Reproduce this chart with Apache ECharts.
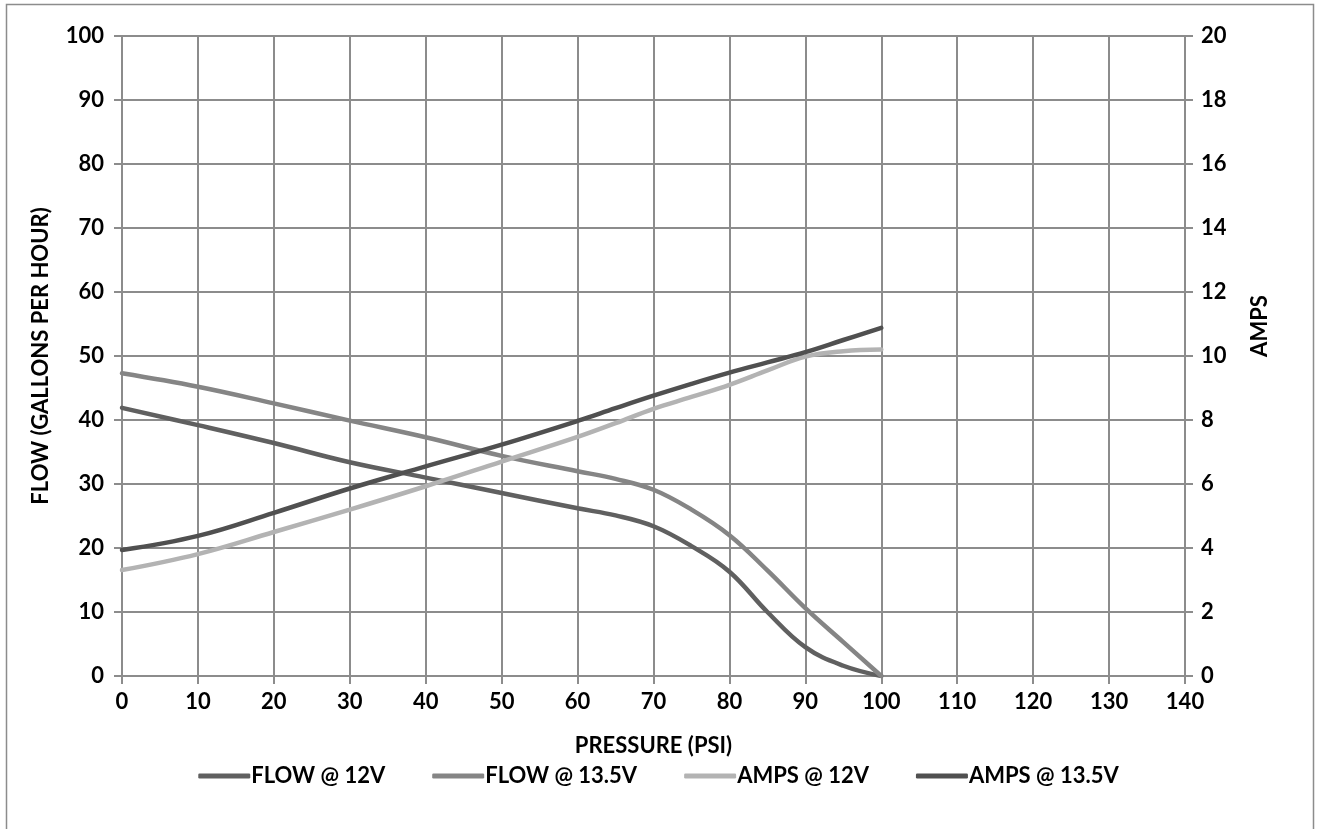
<!DOCTYPE html>
<html><head><meta charset="utf-8">
<script src="https://cdn.jsdelivr.net/npm/echarts@6/dist/echarts.min.js"></script>
<style>html,body{margin:0;padding:0;background:#fff}#c{width:1317px;height:829px}</style>
</head><body><div id="c"></div>
<script>
const pressure = [0,10,20,30,40,50,60,65,70,75,80,85,90,95,100];
const flow12  = [41.9,39.2,36.4,33.4,31.0,28.6,26.2,25.1,23.4,20.3,16.3,10.0,4.5,1.6,0];
const flow135 = [47.3,45.2,42.6,39.9,37.3,34.4,32.0,30.8,29.1,26.0,22.0,16.5,10.6,5.3,0];
const amps12  = [3.31,3.81,4.5,5.2,5.93,6.7,7.47,7.9,8.35,8.72,9.1,9.55,9.98,10.15,10.2];
const amps135 = [3.94,4.38,5.1,5.86,6.55,7.23,7.97,8.37,8.76,9.13,9.48,9.8,10.12,10.5,10.88];
const seriesNames = ['FLOW @ 12V','FLOW @ 13.5V','AMPS @ 12V','AMPS @ 13.5V'];
const colors = ['#606060','#858585','#b3b3b3','#505050'];

const FONT = 'Lato';
const gridColor = '#8c8c8c';
const pair = arr => pressure.map((p,i)=>[p,arr[i]]);
const lbl = {fontFamily:FONT,fontWeight:'bold',fontSize:22,color:'#000'};

const chart = echarts.init(document.getElementById('c'));
chart.setOption({
  animation:false,
  color:colors,
  grid:{left:122,right:132,top:36,bottom:153},
  graphic:[{type:'rect',shape:{x:6.5,y:4.5,width:1307,height:840},style:{fill:'none',stroke:'#8c8c8c',lineWidth:1.5}}],
  legend:{
    data:seriesNames, bottom:37, left:'center',
    icon:'roundRect', itemWidth:52, itemHeight:5, itemGap:47,
    textStyle:Object.assign({},lbl,{padding:[0,0,0,-4]})
  },
  xAxis:{
    type:'value',min:0,max:140,interval:10,
    name:'PRESSURE (PSI)',nameLocation:'middle',nameGap:59,nameTextStyle:lbl,
    axisLine:{show:true,onZero:false,lineStyle:{color:gridColor,width:2}},
    axisTick:{show:true,length:8,lineStyle:{color:gridColor,width:2}},
    axisLabel:Object.assign({},lbl,{margin:15}),
    splitLine:{show:true,lineStyle:{color:gridColor,width:2}}
  },
  yAxis:[{
    type:'value',min:0,max:100,interval:10,
    name:'FLOW (GALLONS PER HOUR)',nameLocation:'middle',nameGap:70,nameRotate:90,nameTextStyle:lbl,
    axisLine:{show:false},
    axisTick:{show:true,length:8,lineStyle:{color:gridColor,width:2}},
    axisLabel:Object.assign({},lbl,{margin:18}),
    splitLine:{show:true,lineStyle:{color:gridColor,width:2}}
  },{
    type:'value',min:0,max:20,interval:2,position:'right',
    name:'AMPS',nameLocation:'middle',nameGap:64,nameRotate:90,
    nameTextStyle:Object.assign({},lbl,{padding:[0,0,0,60]}),
    axisLine:{show:true,lineStyle:{color:gridColor,width:2}},
    axisTick:{show:true,length:8,lineStyle:{color:gridColor,width:2}},
    axisLabel:Object.assign({},lbl,{margin:16}),
    splitLine:{show:false}
  }],
  series:[
    {name:seriesNames[0],type:'line',yAxisIndex:0,data:pair(flow12),smooth:0.4,showSymbol:false,lineStyle:{width:4.5,color:colors[0],cap:'round'}},
    {name:seriesNames[1],type:'line',yAxisIndex:0,data:pair(flow135),smooth:0.4,showSymbol:false,lineStyle:{width:4.5,color:colors[1],cap:'round'}},
    {name:seriesNames[2],type:'line',yAxisIndex:1,data:pair(amps12),smooth:0.4,showSymbol:false,lineStyle:{width:4.5,color:colors[2],cap:'round'}},
    {name:seriesNames[3],type:'line',yAxisIndex:1,data:pair(amps135),smooth:0.4,showSymbol:false,lineStyle:{width:4.5,color:colors[3],cap:'round'}}
  ]
});
</script></body></html>
